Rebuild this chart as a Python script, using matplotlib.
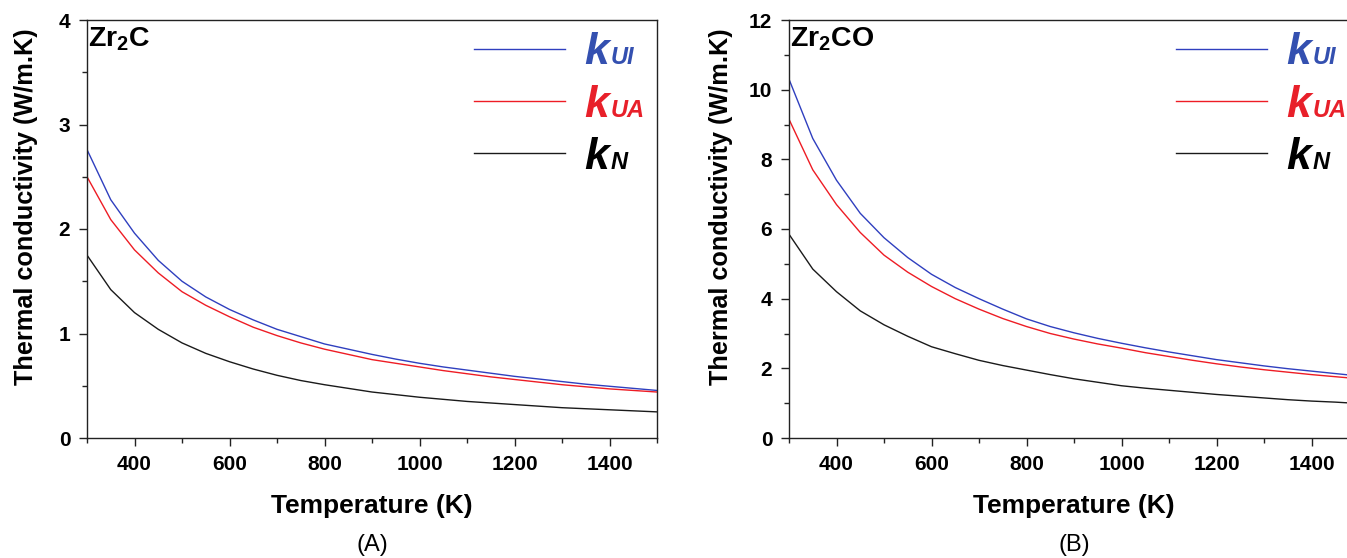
import matplotlib
matplotlib.use('Agg')
import matplotlib.pyplot as plt
from matplotlib.ticker import MultipleLocator
from matplotlib.lines import Line2D

## temperature grid (K), 50 K steps
temp = [300, 350, 400, 450, 500, 550, 600, 650, 700, 750, 800, 850, 900,
        950, 1000, 1050, 1100, 1150, 1200, 1250, 1300, 1350, 1400, 1450, 1500]

## (A) Zr2C
zr2c_kUI = [2.76, 2.28, 1.96, 1.70, 1.50, 1.35, 1.23, 1.13, 1.04, 0.97,
            0.90, 0.85, 0.80, 0.755, 0.715, 0.68, 0.65, 0.62, 0.59, 0.565,
            0.54, 0.515, 0.495, 0.475, 0.455]
zr2c_kUA = [2.50, 2.09, 1.80, 1.58, 1.40, 1.27, 1.16, 1.06, 0.98, 0.91,
            0.85, 0.80, 0.75, 0.715, 0.68, 0.645, 0.615, 0.585, 0.56, 0.535,
            0.51, 0.49, 0.47, 0.455, 0.44]
zr2c_kN = [1.75, 1.42, 1.20, 1.04, 0.91, 0.81, 0.73, 0.66, 0.60, 0.55,
           0.51, 0.475, 0.44, 0.415, 0.39, 0.37, 0.35, 0.335, 0.32, 0.305,
           0.29, 0.28, 0.27, 0.26, 0.25]

## (B) Zr2CO
zr2co_kUI = [10.3, 8.6, 7.4, 6.45, 5.75, 5.18, 4.7, 4.32, 4.0, 3.7,
             3.42, 3.2, 3.02, 2.86, 2.72, 2.59, 2.47, 2.36, 2.25, 2.16,
             2.07, 1.99, 1.92, 1.85, 1.78]
zr2co_kUA = [9.15, 7.7, 6.7, 5.9, 5.25, 4.76, 4.35, 4.0, 3.7, 3.43,
             3.2, 3.0, 2.84, 2.7, 2.58, 2.45, 2.34, 2.23, 2.13, 2.04,
             1.96, 1.89, 1.82, 1.76, 1.70]
zr2co_kN = [5.85, 4.85, 4.2, 3.65, 3.25, 2.92, 2.62, 2.42, 2.23, 2.08,
            1.95, 1.82, 1.70, 1.60, 1.5, 1.43, 1.37, 1.31, 1.25, 1.2,
            1.15, 1.1, 1.06, 1.03, 0.99]

series_subs = ['UI', 'UA', 'N']
line_colors = ['#2f3fbf', '#ee1c24', '#1a1a1a']
text_colors = ['#3450b0', '#e8202a', '#000000']

plt.rcParams['font.family'] = ['Liberation Sans', 'DejaVu Sans']
plt.rcParams['mathtext.fontset'] = 'custom'
plt.rcParams['mathtext.rm'] = 'Liberation Sans:bold'
plt.rcParams['mathtext.bf'] = 'Liberation Sans:bold'
plt.rcParams['mathtext.it'] = 'Liberation Sans:bold:italic'

fig = plt.figure(figsize=(13.47, 5.58), dpi=100)
W, H = 1347, 558


def panel(left_px, ys, ymax, ymajor, yminor, title, letter, ylab_x):
    ax = fig.add_axes([left_px / W, (558 - 438) / H, 570 / W, 418 / H])
    for y, c in zip(ys, line_colors):
        ax.plot(temp, y, color=c, lw=1.0)
    ax.set_xlim(300, 1500)
    ax.set_ylim(0, ymax)
    ax.set_xticks([400, 600, 800, 1000, 1200, 1400])
    ax.xaxis.set_minor_locator(MultipleLocator(100))
    ax.yaxis.set_major_locator(MultipleLocator(ymajor))
    ax.yaxis.set_minor_locator(MultipleLocator(yminor))
    ax.tick_params(which='both', direction='out', top=False, right=False,
                   width=1.0, color='#222222')
    ax.tick_params(which='major', length=6, labelsize=15, pad=6)
    ax.tick_params(which='minor', length=3.5)
    for lab in ax.get_xticklabels() + ax.get_yticklabels():
        lab.set_fontweight('bold')
    for s in ax.spines.values():
        s.set_linewidth(1.0)
        s.set_color('#222222')
    ax.set_xlabel('Temperature (K)', fontsize=19, fontweight='bold')
    ax.xaxis.set_label_coords(0.5, -0.135)
    ax.xaxis.label.set_va('top')
    ax.set_ylabel('Thermal conductivity (W/m.K)', fontsize=18.2,
                  fontweight='bold')
    ax.yaxis.set_label_coords(ylab_x, 0.554)
    ax.text(0.002, 0.988, title, transform=ax.transAxes, ha='left', va='top',
            fontsize=20.5, fontweight='bold')

    ## legend: long line + big italic k, subscript added next to it
    handles = [Line2D([], [], color=c, lw=1.0) for c in line_colors]
    leg = ax.legend(handles, ['k'] * 3, loc='upper left',
                    bbox_to_anchor=(0.647, 1.013), frameon=False,
                    prop=dict(size=32, weight='bold', style='italic'),
                    handlelength=2.05, handletextpad=0.45,
                    labelspacing=0.255, borderaxespad=0)
    for t, c, sub in zip(leg.get_texts(), text_colors, series_subs):
        t.set_color(c)
        ax.annotate(sub, xy=(1, 0), xycoords=t, xytext=(1.0, 6.5),
                    textcoords='offset points', ha='left', va='baseline',
                    fontsize=17, fontweight='bold', fontstyle='italic',
                    color=c, annotation_clip=False, zorder=10)
    ax.text(0.5, -0.23, letter, transform=ax.transAxes, ha='center',
            va='top', fontsize=17)
    return ax


panel(87, [zr2c_kUI, zr2c_kUA, zr2c_kN], 4, 1, 0.5,
      r'Zr$_\mathbf{2}$C', '(A)', -0.086)
panel(789, [zr2co_kUI, zr2co_kUA, zr2co_kN], 12, 2, 1,
      r'Zr$_\mathbf{2}$CO', '(B)', -0.098)

fig.savefig('out.png', dpi=100)
